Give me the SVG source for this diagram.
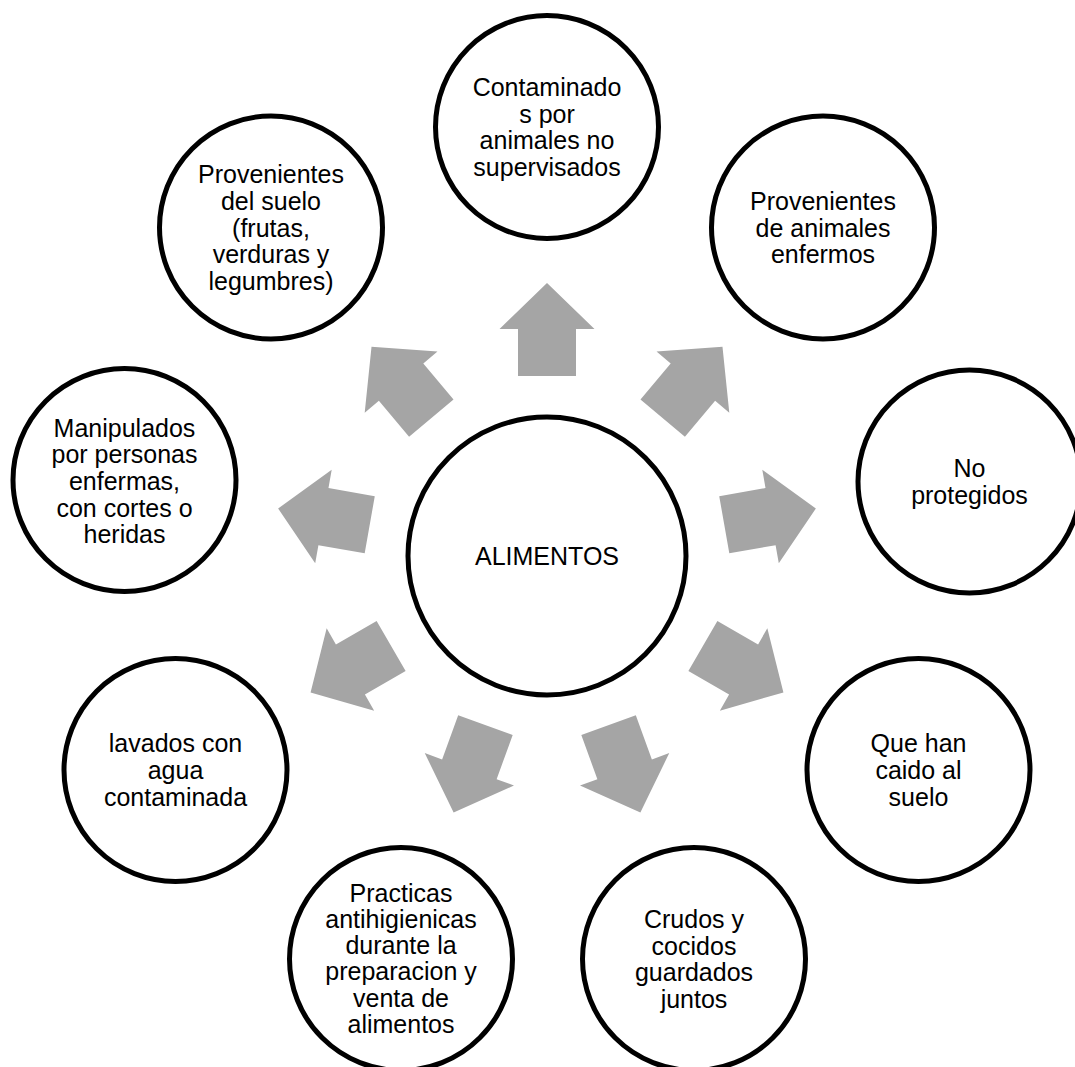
<svg xmlns="http://www.w3.org/2000/svg" width="1075" height="1067" viewBox="0 0 1075 1067">
<style>
.c{fill:#fff;stroke:#000;stroke-width:5}
.t{font-family:"Liberation Sans",Arial,sans-serif;font-size:25px;fill:#000;text-anchor:middle}
.a{fill:#A5A5A5}
</style>
<defs>
<polygon id="arr" points="518,376 576,376 576,329 594.5,329 547,283 499.5,329 518,329"/>
</defs>
<rect width="1075" height="1067" fill="#fff"/>
<g id="connectors">
<use href="#arr" class="a"/>
<use href="#arr" class="a" transform="rotate(40 547 556)"/>
<use href="#arr" class="a" transform="rotate(80 547 556)"/>
<use href="#arr" class="a" transform="rotate(120 547 556)"/>
<use href="#arr" class="a" transform="rotate(160 547 556)"/>
<use href="#arr" class="a" transform="rotate(200 547 556)"/>
<use href="#arr" class="a" transform="rotate(240 547 556)"/>
<use href="#arr" class="a" transform="rotate(280 547 556)"/>
<use href="#arr" class="a" transform="rotate(320 547 556)"/>
</g>
<g id="center">
<circle class="c" cx="547" cy="556" r="139"/>
<text class="t" x="547" y="565">ALIMENTOS</text>
</g>
<g id="n0">
<circle class="c" cx="547" cy="127" r="111.5"/>
<text class="t" x="547" y="96">Contaminado<tspan x="547" dy="26.7">s por</tspan><tspan x="547" dy="26.7">animales no</tspan><tspan x="547" dy="26.7">supervisados</tspan></text>
</g>
<g id="n1">
<circle class="c" cx="823" cy="227.5" r="111.5"/>
<text class="t" x="823" y="209.8">Provenientes<tspan x="823" dy="26.7">de animales</tspan><tspan x="823" dy="26.7">enfermos</tspan></text>
</g>
<g id="n2">
<circle class="c" cx="969.5" cy="481.5" r="111.5"/>
<text class="t" x="969.5" y="477">No<tspan x="969.5" dy="26.7">protegidos</tspan></text>
</g>
<g id="n3">
<circle class="c" cx="918.5" cy="770" r="111.5"/>
<text class="t" x="918.5" y="752.3">Que han<tspan x="918.5" dy="26.7">caido al</tspan><tspan x="918.5" dy="26.7">suelo</tspan></text>
</g>
<g id="n4">
<circle class="c" cx="694" cy="959" r="111.5"/>
<text class="t" x="694" y="928">Crudos y<tspan x="694" dy="26.7">cocidos</tspan><tspan x="694" dy="26.7">guardados</tspan><tspan x="694" dy="26.7">juntos</tspan></text>
</g>
<g id="n5">
<circle class="c" cx="401" cy="959" r="111.5"/>
<text class="t" x="401" y="901.5">Practicas<tspan x="401" dy="26.3">antihigienicas</tspan><tspan x="401" dy="26.3">durante la</tspan><tspan x="401" dy="26.3">preparacion y</tspan><tspan x="401" dy="26.3">venta de</tspan><tspan x="401" dy="26.3">alimentos</tspan></text>
</g>
<g id="n6">
<circle class="c" cx="175.5" cy="770" r="111.5"/>
<text class="t" x="175.5" y="752.3">lavados con<tspan x="175.5" dy="26.7">agua</tspan><tspan x="175.5" dy="26.7">contaminada</tspan></text>
</g>
<g id="n7">
<circle class="c" cx="124.5" cy="480" r="111.5"/>
<text class="t" x="124.5" y="436.6">Manipulados<tspan x="124.5" dy="26.7">por personas</tspan><tspan x="124.5" dy="26.7">enfermas,</tspan><tspan x="124.5" dy="26.7">con cortes o</tspan><tspan x="124.5" dy="26.7">heridas</tspan></text>
</g>
<g id="n8">
<circle class="c" cx="271" cy="227.5" r="111.5"/>
<text class="t" x="271" y="183.1">Provenientes<tspan x="271" dy="26.7">del suelo</tspan><tspan x="271" dy="26.7">(frutas,</tspan><tspan x="271" dy="26.7">verduras y</tspan><tspan x="271" dy="26.7">legumbres)</tspan></text>
</g>
</svg>
